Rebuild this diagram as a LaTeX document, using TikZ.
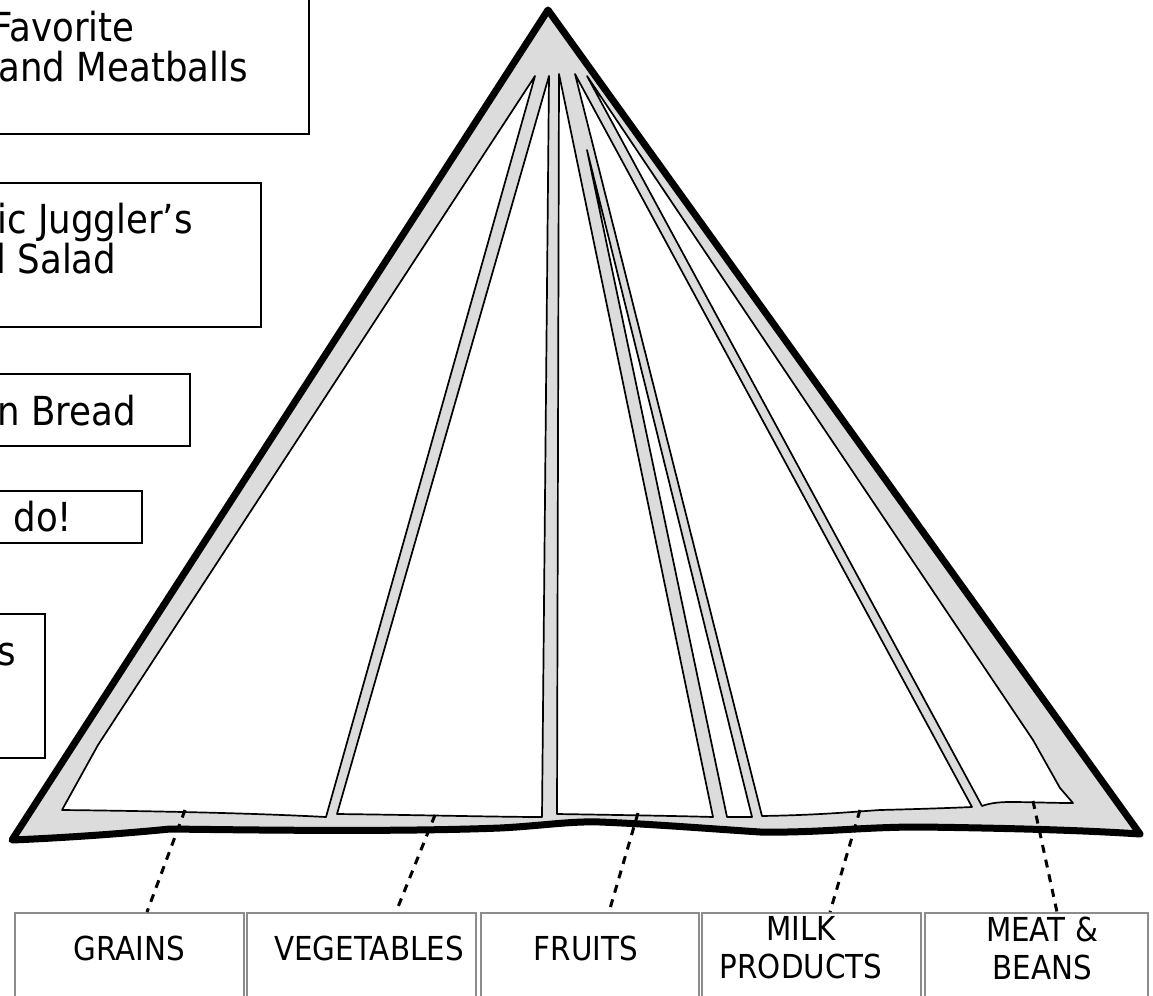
\documentclass[tikz,border=0pt]{standalone}
\usepackage{fontspec}
\newfontfamily\boxfont[FakeStretch=0.89]{DejaVu Sans}
\usetikzlibrary{calc}
\definecolor{bandgray}{RGB}{220,220,220}
\definecolor{boxgray}{RGB}{140,140,140}
\begin{document}
\begin{tikzpicture}[x=0.5pt,y=-0.5pt,
  outline/.style={line width=3.5pt, line cap=round, line join=round},
  wedge/.style={fill=white, draw=black, line width=0.85pt, line join=round},
  leftbox/.style={draw=black, line width=0.8pt, fill=white, inner sep=0pt, anchor=north east},
  lefttext/.style={font=\boxfont\fontsize{20}{24}\selectfont, anchor=base west, inner sep=0pt},
  catbox/.style={draw=boxgray, line width=1pt, inner sep=0pt, anchor=north west, minimum height=60pt},
  cattext/.style={font=\boxfont\fontsize{16.5}{19}\selectfont, align=center, inner sep=0pt},
  link/.style={line width=1.5pt, dash pattern=on 4pt off 3.5pt}
]
\useasboundingbox (0,0) rectangle (1153,996);
\clip (0,0) rectangle (1153,996);

% pyramid band
\fill[bandgray] (548,10) -- (12,840)
  .. controls (60,838) and (120,834) .. (170,829)
  .. controls (250,830) and (400,832) .. (500,828)
  .. controls (540,826) and (570,821) .. (600,822)
  .. controls (650,824) and (700,828) .. (760,832)
  .. controls (820,833) and (860,827) .. (920,827)
  .. controls (1000,828) and (1080,830) .. (1140,834) -- cycle;

% wedges
\draw[wedge] (535,76) -- (98,745) -- (62,810)
  .. controls (150,811) and (250,813) .. (326,817) -- cycle;
\draw[wedge] (549,76) -- (337,814)
  .. controls (420,815) and (500,817) .. (542,817) -- cycle;
\draw[wedge] (559,74) -- (557,814)
  .. controls (620,815) and (680,816) .. (713,817) -- cycle;
\draw[wedge] (587,150) -- (727,817) -- (752,817) -- cycle;
\draw[wedge] (575,74) -- (762,816)
  .. controls (820,815) and (850,812) .. (880,810)
  .. controls (920,809) and (950,808) .. (972,807) -- cycle;
\draw[wedge] (587,76) -- (982,806)
  .. controls (990,803) and (1000,802) .. (1010,802)
  .. controls (1030,802) and (1050,803) .. (1073,803)
  -- (1060,788) -- (1033,740) -- cycle;

% outer outline
\draw[outline] (548,10) -- (12,840)
  .. controls (60,838) and (120,834) .. (170,829)
  .. controls (250,830) and (400,832) .. (500,828)
  .. controls (540,826) and (570,821) .. (600,822)
  .. controls (650,824) and (700,828) .. (760,832)
  .. controls (820,833) and (860,827) .. (920,827)
  .. controls (1000,828) and (1080,830) .. (1140,834) -- cycle;

% left boxes
\node[leftbox, minimum width=165pt, minimum height=72pt] (box1) at (310,-11) {};
\node[leftbox, minimum width=141pt, minimum height=72pt] (box2) at (262,182) {};
\node[leftbox, minimum width=105.5pt, minimum height=36pt] (box3) at (191,373) {};
\node[leftbox, minimum width=81.5pt, minimum height=26pt] (box4) at (143,490) {};
\node[leftbox, minimum width=33pt, minimum height=72pt] (box5) at (46,613) {};

\node[lefttext] (t1a) at (-8,41) {Favorite};
\node[lefttext] (t1b) at (-2,81) {and Meatballs};
\node[lefttext] (t2a) at (-3,233) {ic Juggler’s};
\node[lefttext] (t2b) at (-4,273) {l Salad};
\node[lefttext] (t3) at (-3,425) {n Bread};
\node[lefttext] (t4) at (13,531) {do!};
\node[lefttext] (t5) at (-3,665) {s};

% category boxes
\node[catbox, minimum width=114.5pt] (grainsbox) at (14,912) {};
\node[catbox, minimum width=114.5pt] (vegbox) at (246,912) {};
\node[catbox, minimum width=109pt] (fruitbox) at (480,912) {};
\node[catbox, minimum width=109.5pt] (milkbox) at (701,912) {};
\node[catbox, minimum width=111.5pt] (meatbox) at (924,912) {};

\node[cattext] (grainslabel) at ($(grainsbox.north west)+(115,36)$) {GRAINS};
\node[cattext] (veglabel) at ($(vegbox.north west)+(123,36)$) {VEGETABLES};
\node[cattext] (fruitlabel) at ($(fruitbox.north west)+(106,36)$) {FRUITS};
\node[cattext] (milklabel) at ($(milkbox.north west)+(100,36)$) {MILK\\PRODUCTS};
\node[cattext] (meatlabel) at ($(meatbox.north west)+(118,36)$) {MEAT \&\\BEANS};

% pyramid points
\coordinate (pg) at (185,810);
\coordinate (pv) at (435,815);
\coordinate (pf) at (638,813);
\coordinate (pm) at (860,810);
\coordinate (pb) at (1033,801);

\draw[link] (pg) -- ($(grainsbox.north west)+(133,0)$);
\draw[link] (pv) -- ($(vegbox.north west)+(150,0)$);
\draw[link] (pf) -- ($(fruitbox.north west)+(129,0)$);
\draw[link] (pm) -- ($(milkbox.north west)+(129,0)$);
\draw[link] (pb) -- ($(meatbox.north west)+(133,0)$);
\end{tikzpicture}
\end{document}
